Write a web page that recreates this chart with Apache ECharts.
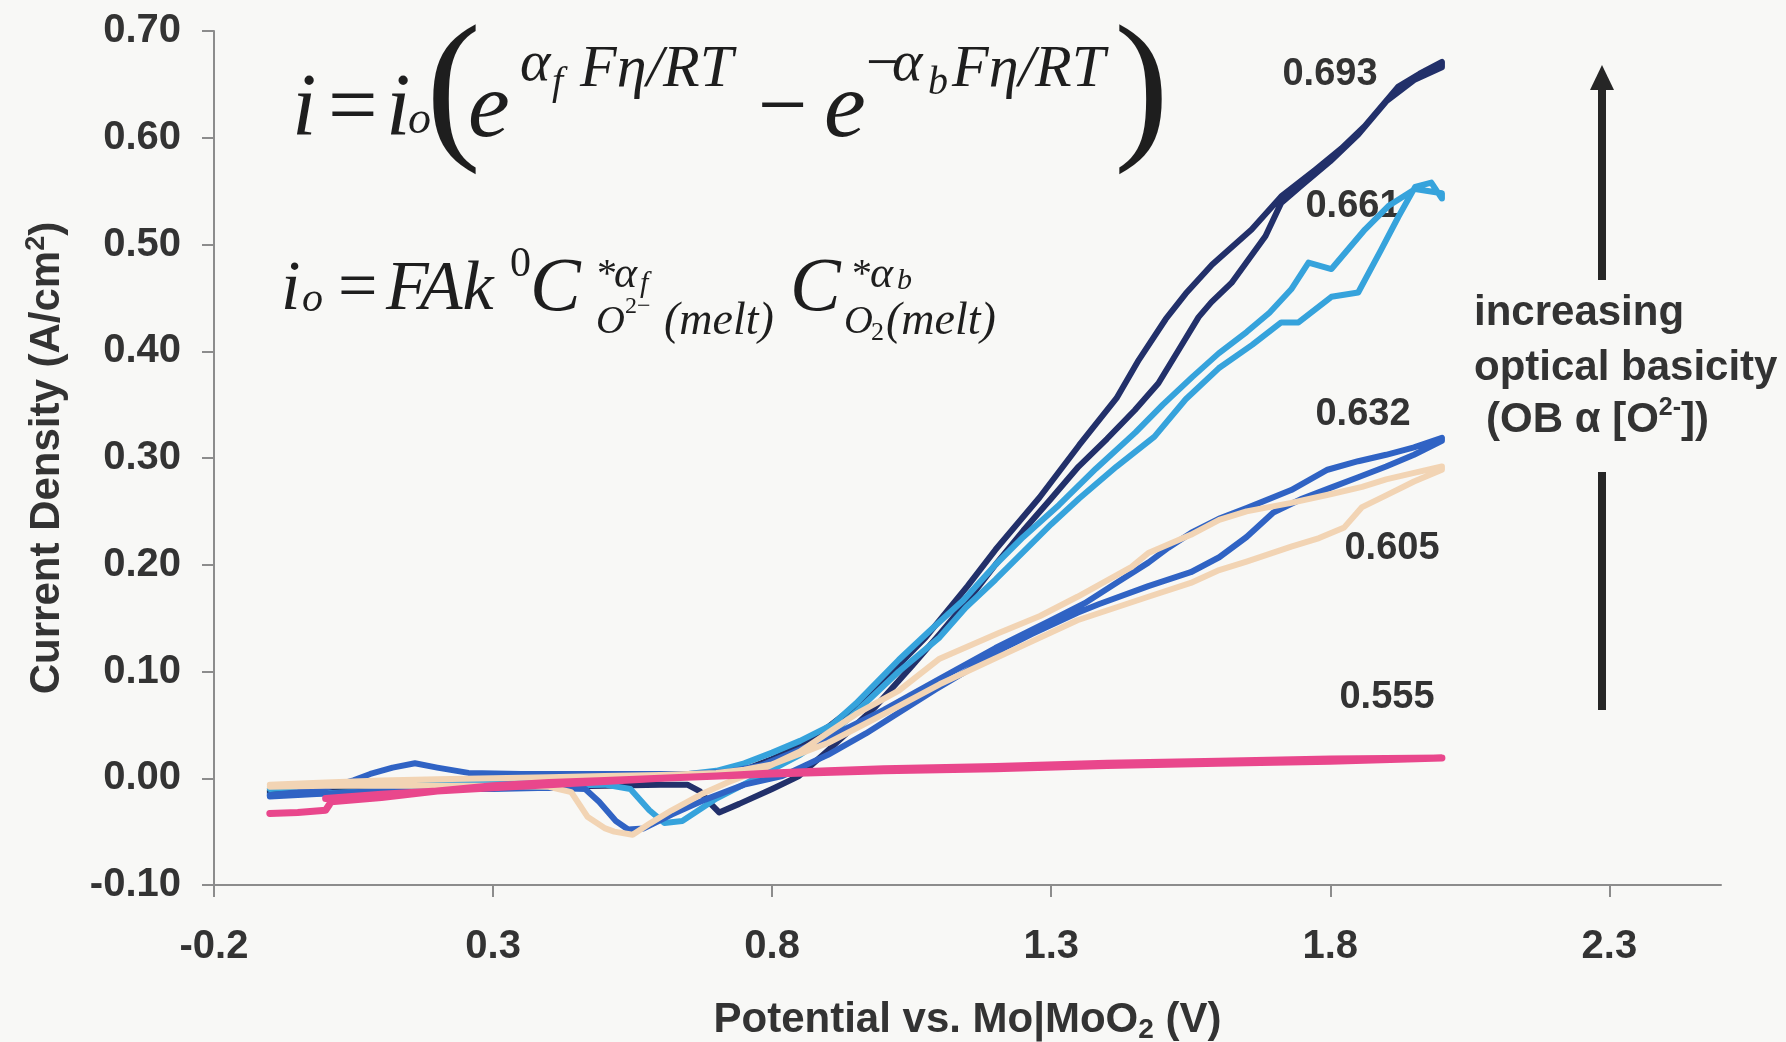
<!DOCTYPE html>
<html>
<head>
<meta charset="utf-8">
<title>Current density vs potential</title>
<script src="https://cdn.jsdelivr.net/npm/echarts@6/dist/echarts.min.js"></script>
<style>
  html, body { margin: 0; padding: 0; background: #f8f8f6; }
  #chart { width: 1786px; height: 1042px; }
</style>
</head>
<body>
<div id="chart"></div>
<script>
// tick labels on the potential axis
const potentialTicks = [-0.2, 0.3, 0.8, 1.3, 1.8, 2.3];

// optical basicity of each melt, shown next to its curve
const basicityLabels = ['0.693', '0.661', '0.632', '0.605', '0.555'];

// [potential V, current density A/cm2], forward scan then reverse scan
const navyFwd = [[-0.1,-0.012],[0.0,-0.009],[0.1,-0.006],[0.2,-0.004],[0.3,-0.003],[0.4,-0.002],[0.5,-0.001],[0.6,0.0],[0.7,0.003],[0.75,0.008],[0.8,0.018],[0.85,0.030],[0.9,0.048],[0.95,0.068],[1.0,0.092],[1.075,0.132],[1.15,0.180],[1.2,0.214],[1.279,0.263],[1.35,0.312],[1.417,0.356],[1.457,0.392],[1.505,0.430],[1.541,0.454],[1.588,0.481],[1.659,0.514],[1.712,0.545],[1.773,0.570],[1.82,0.590],[1.862,0.611],[1.922,0.648],[1.96,0.660],[2.0,0.671]];
const navyRev = [[2.0,0.666],[1.95,0.654],[1.9,0.634],[1.85,0.603],[1.8,0.578],[1.75,0.556],[1.712,0.539],[1.684,0.508],[1.623,0.464],[1.587,0.446],[1.564,0.432],[1.528,0.401],[1.492,0.370],[1.45,0.345],[1.4,0.318],[1.349,0.292],[1.3,0.262],[1.25,0.232],[1.2,0.200],[1.15,0.166],[1.1,0.135],[1.05,0.105],[0.985,0.067],[0.95,0.050],[0.9,0.026],[0.848,0.002],[0.8,-0.010],[0.741,-0.024],[0.705,-0.032],[0.69,-0.024],[0.67,-0.012],[0.648,-0.006],[0.6,-0.006],[0.5,-0.007],[0.4,-0.008],[0.3,-0.009],[0.2,-0.010],[0.1,-0.011],[0.0,-0.012],[-0.1,-0.014]];

const lightFwd = [[-0.1,-0.010],[0.0,-0.007],[0.1,-0.005],[0.2,-0.004],[0.3,-0.003],[0.4,-0.002],[0.5,-0.001],[0.6,0.001],[0.7,0.007],[0.75,0.014],[0.8,0.024],[0.85,0.035],[0.907,0.050],[0.95,0.070],[1.027,0.111],[1.08,0.137],[1.143,0.167],[1.2,0.200],[1.25,0.226],[1.314,0.256],[1.38,0.290],[1.451,0.324],[1.5,0.350],[1.553,0.376],[1.6,0.398],[1.65,0.418],[1.691,0.436],[1.73,0.458],[1.761,0.483],[1.802,0.477],[1.862,0.514],[1.904,0.536],[1.952,0.552],[2.0,0.548]];
const lightRev = [[2.0,0.543],[1.981,0.558],[1.952,0.554],[1.922,0.526],[1.891,0.495],[1.85,0.455],[1.802,0.451],[1.743,0.427],[1.712,0.427],[1.66,0.406],[1.6,0.384],[1.541,0.355],[1.485,0.320],[1.417,0.292],[1.35,0.262],[1.3,0.238],[1.25,0.212],[1.2,0.186],[1.147,0.160],[1.1,0.132],[1.027,0.100],[0.95,0.062],[0.907,0.042],[0.85,0.022],[0.8,0.008],[0.741,-0.008],[0.7,-0.019],[0.677,-0.027],[0.639,-0.040],[0.607,-0.042],[0.58,-0.030],[0.546,-0.010],[0.5,-0.006],[0.4,-0.007],[0.3,-0.008],[0.2,-0.010],[0.1,-0.012],[0.0,-0.014],[-0.1,-0.016]];

const midFwd = [[-0.1,-0.016],[-0.05,-0.013],[0.0,-0.009],[0.05,-0.002],[0.08,0.004],[0.12,0.010],[0.16,0.014],[0.2,0.010],[0.256,0.005],[0.35,0.004],[0.45,0.004],[0.55,0.004],[0.65,0.004],[0.72,0.006],[0.78,0.012],[0.85,0.027],[0.9,0.038],[1.0,0.064],[1.1,0.093],[1.2,0.122],[1.3,0.148],[1.36,0.164],[1.42,0.184],[1.474,0.202],[1.51,0.216],[1.551,0.230],[1.6,0.243],[1.65,0.253],[1.73,0.270],[1.795,0.289],[1.85,0.297],[1.9,0.303],[1.95,0.310],[2.0,0.319]];
const midRev = [[2.0,0.316],[1.95,0.303],[1.9,0.292],[1.85,0.282],[1.8,0.272],[1.75,0.262],[1.698,0.249],[1.65,0.226],[1.601,0.207],[1.55,0.193],[1.474,0.180],[1.385,0.163],[1.347,0.155],[1.265,0.135],[1.219,0.123],[1.147,0.100],[1.092,0.083],[0.968,0.042],[0.9,0.022],[0.818,0.002],[0.75,-0.006],[0.68,-0.020],[0.62,-0.034],[0.57,-0.047],[0.542,-0.048],[0.52,-0.040],[0.49,-0.022],[0.465,-0.010],[0.4,-0.009],[0.3,-0.010],[0.2,-0.010],[0.14,-0.011],[0.05,-0.013],[-0.1,-0.017]];

const beigeFwd = [[-0.1,-0.006],[0.0,-0.004],[0.1,-0.002],[0.2,-0.001],[0.3,0.0],[0.4,0.001],[0.5,0.002],[0.6,0.003],[0.7,0.005],[0.75,0.008],[0.8,0.013],[0.9,0.033],[1.0,0.060],[1.1,0.088],[1.219,0.117],[1.347,0.148],[1.474,0.170],[1.55,0.183],[1.601,0.195],[1.65,0.203],[1.73,0.217],[1.78,0.225],[1.825,0.235],[1.857,0.254],[1.9,0.265],[1.95,0.278],[2.0,0.289]];
const beigeRev = [[2.0,0.292],[1.95,0.286],[1.9,0.280],[1.857,0.273],[1.8,0.266],[1.73,0.258],[1.65,0.250],[1.601,0.242],[1.55,0.228],[1.474,0.211],[1.444,0.198],[1.347,0.170],[1.28,0.152],[1.206,0.136],[1.1,0.112],[1.027,0.082],[0.95,0.060],[0.907,0.045],[0.85,0.025],[0.789,0.010],[0.72,-0.004],[0.677,-0.014],[0.62,-0.030],[0.582,-0.042],[0.55,-0.053],[0.517,-0.050],[0.501,-0.047],[0.469,-0.036],[0.44,-0.013],[0.40,-0.008],[0.3,-0.007],[0.2,-0.007],[0.1,-0.007],[0.0,-0.007],[-0.1,-0.008]];

const pinkFwd = [[-0.1,-0.033],[-0.05,-0.032],[0.0,-0.030],[0.01,-0.022],[0.1,-0.018],[0.2,-0.012],[0.3,-0.007],[0.4,-0.004],[0.5,-0.002],[0.6,0.0],[0.7,0.002],[0.8,0.005],[0.9,0.007],[1.0,0.009],[1.2,0.011],[1.4,0.014],[1.6,0.016],[1.8,0.018],[2.0,0.019]];
const pinkRev = [[2.0,0.018],[1.8,0.016],[1.6,0.014],[1.4,0.012],[1.2,0.009],[1.0,0.007],[0.8,0.004],[0.6,0.0],[0.5,-0.003],[0.4,-0.006],[0.3,-0.009],[0.2,-0.012],[0.1,-0.015],[0.0,-0.019]];

const sans = "'Liberation Sans', Arial, sans-serif";
const serif = "'Liberation Serif', 'Times New Roman', serif";
const ink = '#333333';

function loop(name, fwd, rev, color, width) {
  return {
    name: name,
    type: 'line',
    data: fwd.concat(rev),
    showSymbol: false,
    smooth: false,
    lineStyle: { color: color, width: width, cap: 'round', join: 'round' },
    emphasis: { disabled: true }
  };
}

// one piece of the equations, y is the text middle
function eq(text, x, y, size, italic) {
  return {
    type: 'text', x: x, y: y, silent: true,
    style: {
      text: text, fill: '#1e1e1e', fontFamily: serif, fontSize: size,
      fontStyle: italic === false ? 'normal' : 'italic',
      align: 'left', verticalAlign: 'middle'
    }
  };
}

function label(text, x, y, size) {
  return {
    type: 'text', x: x, y: y, silent: true,
    style: {
      text: text, fill: ink, fontFamily: sans, fontWeight: 'bold', fontSize: size || 38,
      align: 'center', verticalAlign: 'middle'
    }
  };
}

const chart = echarts.init(document.getElementById('chart'));

const option = {
  backgroundColor: '#f8f8f6',
  animation: false,
  grid: { left: 214, right: 65, top: 31, bottom: 157, outerBoundsMode: 'none' },
  xAxis: {
    type: 'value',
    min: -0.2,
    max: 2.5,
    name: '{a|Potential vs. Mo|MoO}{b|2}{a| (V)}',
    nameLocation: 'middle',
    nameGap: 111,
    nameTextStyle: {
      rich: {
        a: { fontFamily: sans, fontWeight: 'bold', fontSize: 42, color: ink, lineHeight: 48 },
        b: { fontFamily: sans, fontWeight: 'bold', fontSize: 28, color: ink, lineHeight: 28, verticalAlign: 'bottom' }
      }
    },
    axisLine: { onZero: false, lineStyle: { color: '#8c8c8c', width: 2 } },
    axisTick: { customValues: potentialTicks, length: 12, lineStyle: { color: '#8c8c8c', width: 2 } },
    axisLabel: {
      customValues: potentialTicks,
      formatter: v => v.toFixed(1),
      margin: 42,
      fontFamily: sans, fontWeight: 'bold', fontSize: 40, color: ink
    },
    splitLine: { show: false }
  },
  yAxis: {
    type: 'value',
    min: -0.1,
    max: 0.7,
    interval: 0.1,
    name: '{a|Current Density (A/cm}{s|2}{a|)}',
    nameLocation: 'middle',
    nameGap: 143,
    nameTextStyle: {
      rich: {
        a: { fontFamily: sans, fontWeight: 'bold', fontSize: 42, color: ink, lineHeight: 48 },
        s: { fontFamily: sans, fontWeight: 'bold', fontSize: 27, color: ink, lineHeight: 27, verticalAlign: 'top' }
      }
    },
    axisLine: { show: true, onZero: false, lineStyle: { color: '#8c8c8c', width: 2 } },
    axisTick: { show: true, length: 12, lineStyle: { color: '#8c8c8c', width: 2 } },
    axisLabel: {
      formatter: v => v.toFixed(2),
      margin: 33,
      fontFamily: sans, fontWeight: 'bold', fontSize: 40, color: ink
    },
    splitLine: { show: false }
  },
  series: [
    loop('0.693', navyFwd, navyRev, '#22306a', 6),
    loop('0.661', lightFwd, lightRev, '#36a3dc', 6),
    loop('0.632', midFwd, midRev, '#3063c4', 6),
    loop('0.605', beigeFwd, beigeRev, '#f2d4b4', 6),
    loop('0.555', pinkFwd, pinkRev, '#e9478c', 7)
  ],
  graphic: [
    // i = io(e^(af F eta/RT) - e^(-ab F eta/RT))
    eq('i', 292, 111, 88),
    eq('=', 328, 111, 88, false),
    eq('i', 386, 111, 88),
    eq('o', 408, 121, 46),
    eq('(', 426, 96, 165, false),
    eq('e', 468, 111, 94),
    eq('α', 520, 65, 58),
    eq('f', 552, 83, 40),
    eq('Fη/RT', 580, 70, 60),
    eq('−', 758, 111, 88, false),
    eq('e', 824, 111, 94),
    eq('−', 866, 66, 58, false),
    eq('α', 892, 65, 58),
    eq('b', 928, 83, 40),
    eq('Fη/RT', 952, 70, 60),
    eq(')', 1114, 96, 165, false),
    // io = F A k0 C*af O2-(melt) C*ab O2(melt)
    eq('i', 281, 291, 70),
    eq('o', 302, 300, 42),
    eq('=', 338, 291, 70, false),
    eq('FAk', 386, 291, 70),
    eq('0', 510, 265, 42, false),
    eq('C', 530, 290, 76),
    eq('*', 597, 275, 40, false),
    eq('α', 614, 275, 44),
    eq('f', 640, 284, 30),
    eq('O', 596, 322, 40),
    eq('2−', 625, 307, 24, false),
    eq('(melt)', 664, 322, 46),
    eq('C', 790, 290, 76),
    eq('*', 852, 275, 40, false),
    eq('α', 870, 275, 44),
    eq('b', 897, 281, 30),
    eq('O', 844, 322, 40),
    eq('2', 871, 333, 26, false),
    eq('(melt)', 886, 322, 46),

    // basicity labels by the curves
    label(basicityLabels[0], 1330, 75),
    label(basicityLabels[1], 1353, 207),
    label(basicityLabels[2], 1363, 415),
    label(basicityLabels[3], 1392, 549),
    label(basicityLabels[4], 1387, 698),

    // arrow
    { type: 'rect', silent: true, shape: { x: 1598, y: 86, width: 8, height: 194 }, style: { fill: '#262626' } },
    { type: 'polygon', silent: true, shape: { points: [[1602, 65], [1590, 90], [1614, 90]] }, style: { fill: '#262626' } },
    { type: 'rect', silent: true, shape: { x: 1598, y: 472, width: 8, height: 238 }, style: { fill: '#262626' } },
    {
      type: 'text', x: 1474, y: 313, silent: true,
      style: { text: 'increasing', fill: ink, fontFamily: sans, fontWeight: 'bold', fontSize: 42, align: 'left', verticalAlign: 'middle' }
    },
    {
      type: 'text', x: 1474, y: 368, silent: true,
      style: { text: 'optical basicity', fill: ink, fontFamily: sans, fontWeight: 'bold', fontSize: 42, align: 'left', verticalAlign: 'middle' }
    },
    {
      type: 'text', x: 1486, y: 420, silent: true,
      style: {
        text: '{a|(OB α [O}{s|2-}{a|])}', fill: ink, align: 'left', verticalAlign: 'middle',
        rich: {
          a: { fontFamily: sans, fontWeight: 'bold', fontSize: 42, fill: ink, lineHeight: 48 },
          s: { fontFamily: sans, fontWeight: 'bold', fontSize: 25, fill: ink, lineHeight: 25, verticalAlign: 'top' }
        }
      }
    }
  ]
};

chart.setOption(option);
</script>
</body>
</html>
